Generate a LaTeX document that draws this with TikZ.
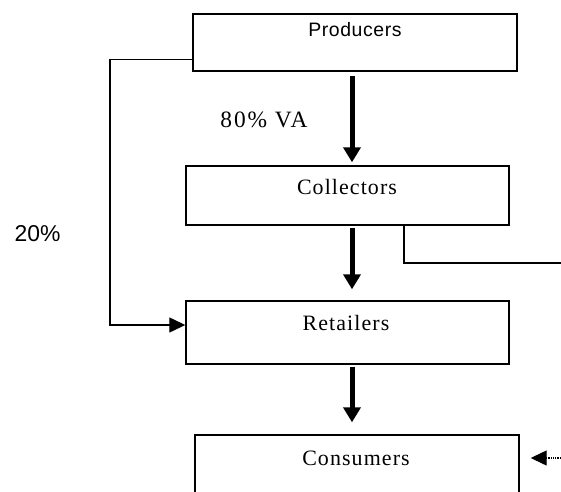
\documentclass[tikz,border=0pt]{standalone}
\usepackage{fontspec}
\setmainfont{Liberation Serif}
\newfontfamily\stagesans[LetterSpace=3]{Liberation Sans}
\newfontfamily\stageserif[LetterSpace=5]{Liberation Serif}
\usetikzlibrary{arrows.meta}
\begin{document}
\begin{tikzpicture}[x=1bp,y=-1bp,
  stage/.style={draw,line width=1.4bp,inner sep=0pt},
  serifname/.style={anchor=base,font=\stageserif\fontsize{22}{22}\selectfont},
  flow/.style={-{Triangle[length=15bp,width=17bp]},line width=5bp},
  link/.style={line width=1.3bp},
  linkhead/.style={-{Triangle[length=16bp,width=15bp]}}]
\useasboundingbox (0,0) rectangle (561,492);
\clip (0,0) rectangle (561,492);
\node [stage,minimum width=324bp,minimum height=57bp] (producers) at (355,42.5) {};
\node [stage,minimum width=323bp,minimum height=59bp] (collectors) at (347.5,195.5) {};
\node [stage,minimum width=323bp,minimum height=63bp] (retailers) at (347.5,332.5) {};
\node [stage,minimum width=324bp,minimum height=65bp] (consumers) at (357,467.5) {};
\node [anchor=base,font=\stagesans\fontsize{19.5}{19.5}\selectfont] (producerstext) at (355,37) {Producers};
\node [serifname] (collectorstext) at (347,195) {Collectors};
\node [serifname] (retailerstext) at (346,330) {Retailers};
\node [serifname] (consumerstext) at (356,465) {Consumers};
\node [anchor=base,font=\stageserif\addfontfeatures{LetterSpace=8}\fontsize{23.5}{23.5}\selectfont] (vashare) at (264,128) {80\% VA};
\node [anchor=base,font=\stagesans\addfontfeatures{LetterSpace=0}\fontsize{23}{23}\selectfont] (directshare) at (37.5,241) {20\%};
\coordinate (spine) at (352,0);
\coordinate (leftrail) at (110,325);
\coordinate (dropline) at (404,263);
\coordinate (eastout) at (561,263);
\coordinate (eastin) at (561,458);
\draw [flow,shorten <=4bp,shorten >=3bp] (producers.south -| spine) -- (collectors.north -| spine);
\draw [flow,shorten <=2bp,shorten >=11bp] (collectors.south -| spine) -- (retailers.north -| spine);
\draw [flow,shorten <=2bp,shorten >=12bp] (retailers.south -| spine) -- (consumers.north -| spine);
\draw [link,linkhead] ([yshift=12bp]producers.south west) -| (leftrail) -- (retailers.west |- leftrail);
\draw [link] (collectors.south -| dropline) -- (dropline) -- (eastout);
\draw [link,linkhead,densely dotted,shorten >=11bp] (eastin) -- (consumers.east |- eastin);
\end{tikzpicture}
\end{document}
